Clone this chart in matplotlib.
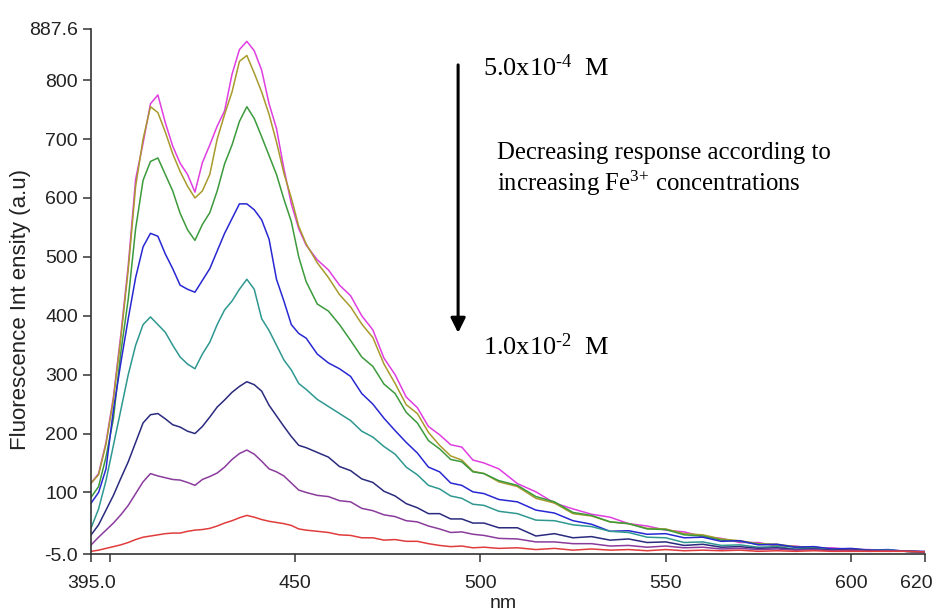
import matplotlib
matplotlib.use('Agg')
import matplotlib.pyplot as plt
from matplotlib.transforms import ScaledTranslation

plt.rcParams['mathtext.fontset'] = 'custom'
plt.rcParams['mathtext.rm'] = 'Liberation Serif'
plt.rcParams['mathtext.it'] = 'Liberation Serif:italic'

# wavelength (nm)
wl = [395, 397, 399, 401, 403, 405, 407, 409, 411, 413, 415, 417, 419, 421, 423,
      425, 427, 429, 431, 433, 435, 437, 439, 441, 443, 445, 447, 449, 451, 453,
      456, 459, 462, 465, 468, 471, 474, 477, 480, 483, 486, 489, 492, 495, 498, 501,
      505, 510, 515, 520, 525, 530, 535, 540, 545, 550, 555, 560, 565, 570, 575,
      580, 585, 590, 595, 600, 605, 610, 615, 620]

# intensities, lowest Fe3+ concentration first
magenta = [116, 132, 185, 262, 368, 485, 632, 693, 760, 775, 728, 688, 659, 640, 610,
           660, 690, 722, 748, 810, 852, 866, 850, 817, 760, 718, 650, 590, 548, 520,
           495, 478, 452, 434, 400, 376, 328, 300, 262, 244, 212, 198, 181, 177, 155, 150,
           140, 115, 101, 82, 72, 63, 58, 47, 43, 36, 33, 25, 22, 15, 15,
           9, 9, 5, 6, 3, 3, 0, 1, -1]
olive = [116, 130, 182, 258, 362, 478, 620, 700, 755, 745, 712, 675, 645, 620, 600,
         612, 640, 700, 742, 780, 832, 842, 812, 780, 742, 695, 642, 600, 552, 522,
         490, 465, 436, 415, 386, 363, 318, 285, 249, 234, 202, 180, 162, 155, 136, 132,
         118, 110, 90, 82, 64, 60, 50, 47, 39, 38, 30, 28, 21, 18, 13,
         12, 8, 7, 4, 4, 2, 1, 0, -1]
green = [92, 110, 160, 225, 338, 428, 548, 630, 662, 668, 640, 612, 574, 546, 528,
         555, 575, 612, 658, 690, 730, 755, 735, 704, 672, 640, 598, 560, 500, 458,
         420, 408, 385, 358, 330, 314, 284, 268, 236, 218, 188, 174, 156, 152, 135, 132,
         120, 112, 93, 84, 66, 61, 50, 47, 38, 37, 28, 26, 19, 17, 12,
         11, 7, 7, 3, 4, 1, 2, 0, -1]
blue = [82, 100, 140, 240, 320, 395, 465, 517, 540, 535, 505, 480, 452, 445, 440,
        460, 480, 510, 540, 565, 590, 590, 580, 563, 530, 462, 425, 385, 370, 362,
        335, 320, 310, 297, 268, 250, 226, 205, 185, 167, 143, 135, 116, 112, 101, 98,
        88, 84, 70, 65, 52, 46, 34, 35, 29, 30, 23, 24, 17, 18, 11,
        12, 7, 8, 4, 5, 2, 3, 0, 0]
teal = [40, 72, 120, 180, 240, 300, 350, 385, 398, 385, 372, 350, 330, 318, 310,
        335, 355, 385, 410, 425, 445, 462, 445, 395, 375, 350, 325, 308, 285, 275,
        258, 246, 234, 222, 204, 194, 178, 165, 143, 130, 112, 106, 94, 90, 80, 78,
        68, 64, 53, 52, 45, 42, 34, 32, 24, 23, 15, 16, 10, 11, 7,
        8, 4, 5, 2, 3, 1, 2, 0, -1]
navy = [28, 45, 70, 95, 124, 152, 185, 218, 232, 234, 225, 215, 211, 204, 200,
        212, 228, 245, 257, 270, 280, 288, 283, 272, 248, 230, 212, 195, 180, 176,
        168, 160, 144, 137, 123, 117, 102, 94, 81, 74, 64, 64, 55, 55, 48, 48,
        40, 40, 26, 30, 23, 25, 19, 21, 15, 16, 10, 12, 7, 8, 5,
        6, 3, 4, 2, 3, 1, 1, 0, -1]
purple = [11, 24, 36, 48, 62, 78, 98, 118, 132, 128, 125, 122, 121, 117, 112,
          122, 127, 133, 143, 156, 166, 172, 165, 153, 140, 135, 128, 116, 104, 100,
          95, 93, 86, 84, 73, 69, 62, 59, 52, 50, 43, 38, 32, 33, 29, 27,
          22, 21, 16, 16, 13, 13, 9, 10, 7, 9, 6, 7, 4, 5, 3,
          4, 2, 3, 1, 2, 0, 1, 0, -1]
red = [0, 2, 5, 8, 11, 15, 20, 24, 26, 28, 30, 31, 31, 34, 36,
       37, 39, 43, 48, 52, 57, 61, 58, 54, 51, 49, 47, 44, 38, 36,
       34, 32, 28, 27, 23, 23, 19, 20, 17, 17, 13, 10, 8, 9, 6, 7,
       5, 6, 3, 5, 2, 4, 2, 3, 1, 3, 1, 2, 1, 2, 0,
       1, 0, 1, 0, 0, 0, 0, 0, -1]

series = [magenta, olive, green, blue, teal, navy, purple, red]
colors = ['#e03ee0', '#a89a2c', '#3c9a3c', '#2828d2', '#2e9890', '#2a2a7e', '#8a3c9c', '#e03c3c']

yticks = [-5, 100, 200, 300, 400, 500, 600, 700, 800, 887.6]
ytick_labels = ['-5.0', '100', '200', '300', '400', '500', '600', '700', '800', '887.6']
xticks = [395, 400, 450, 500, 550, 600, 620]
xtick_labels = ['395.0', '', '450', '500', '550', '600', '620']

fig = plt.figure(figsize=(9.37, 6.13), dpi=100)
ax = fig.add_axes([0.0973, 0.0958, 0.890, 0.8575])

for vals, c in zip(series, colors):
    ax.plot(wl, vals, color=c, linewidth=1.1)

ax.set_xlim(395, 620)
ax.set_ylim(-5, 887.6)
ax.set_yticks(yticks)
ax.set_yticklabels(ytick_labels)
ax.set_xticks(xticks)
ax.set_xticklabels(xtick_labels)
ax.spines['top'].set_visible(False)
ax.spines['right'].set_visible(False)
for s in ['left', 'bottom']:
    ax.spines[s].set_color('#333333')
    ax.spines[s].set_linewidth(1.2)
ax.tick_params(colors='#333333', labelsize=14, length=6, width=1.1,
               labelcolor='#222222')
ax.tick_params(axis='x', pad=9)
for lab in ax.get_xticklabels() + ax.get_yticklabels():
    lab.set_family('Liberation Sans')
last = ax.get_xticklabels()[-1]
last.set_transform(last.get_transform() + ScaledTranslation(-0.09, 0, fig.dpi_scale_trans))

ax.set_xlabel('nm', fontsize=14, family='Liberation Sans', color='#222222')
ax.xaxis.set_label_coords(0.494, -0.078)
ax.set_ylabel('Fluorescence Int ensity (a.u)', fontsize=16, family='Liberation Sans',
              color='#222222')
ax.yaxis.set_label_coords(-0.072, 0.466)

# arrow and annotations
ax.annotate('', xy=(494.0, 371), xytext=(494.0, 826),
            arrowprops=dict(arrowstyle='-|>', color='black', lw=2.2,
                            mutation_scale=22, shrinkA=0, shrinkB=0))
ax.text(500.7, 821, r'5.0x10$^{\text{-4}}$  M', fontsize=19, family='Liberation Serif',
        va='center', ha='left')
ax.text(500.7, 347, r'1.0x10$^{\text{-2}}$  M', fontsize=19, family='Liberation Serif',
        va='center', ha='left')
ax.text(504.5, 676, 'Decreasing response according to', fontsize=17.8,
        family='Liberation Serif', va='center', ha='left')
ax.text(504.5, 625, r'increasing Fe$^{\text{3+}}$ concentrations', fontsize=17.8,
        family='Liberation Serif', va='center', ha='left')

fig.savefig('out.png', dpi=100)
